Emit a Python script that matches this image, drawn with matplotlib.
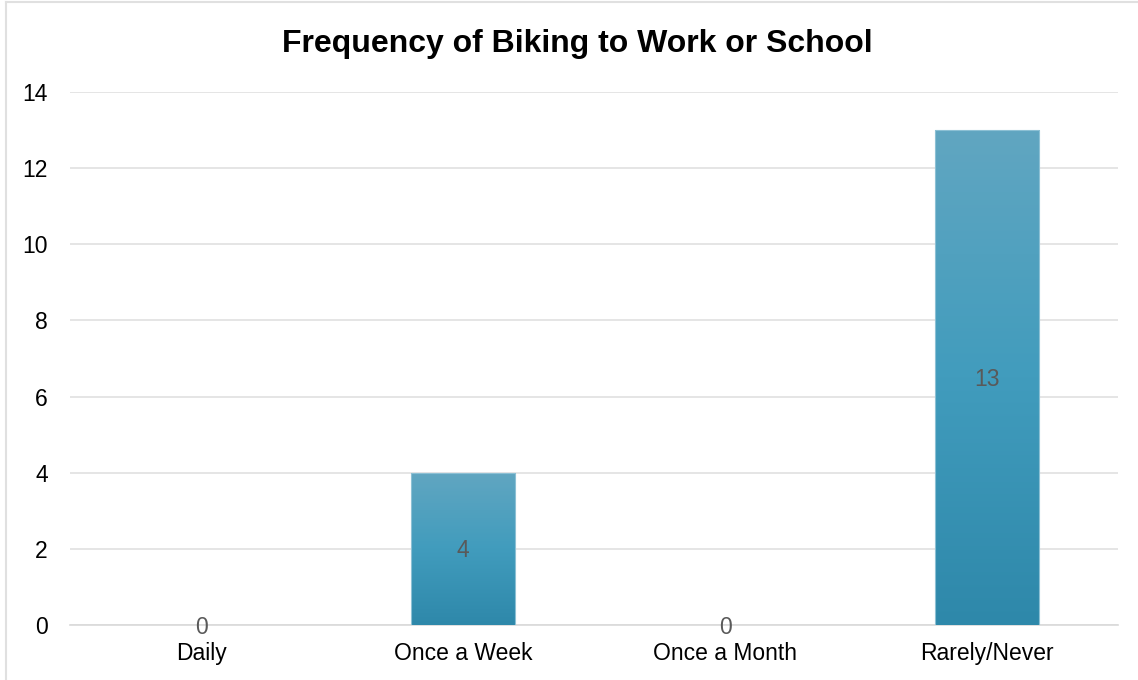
import numpy as np
import matplotlib
matplotlib.use('Agg')
import matplotlib.pyplot as plt
from matplotlib.colors import LinearSegmentedColormap
from matplotlib.lines import Line2D

plt.rcParams['font.family'] = ['Liberation Sans', 'DejaVu Sans']

categorias = ['Daily', 'Once a Week', 'Once a Month', 'Rarely/Never']
valores = [0, 4, 0, 13]
titulo = 'Frequency of Biking to Work or School'

fig = plt.figure(figsize=(11.38, 6.80), dpi=100)
ax = fig.add_axes([70/1138, 1-625/680, 1048/1138, 533/680])

x = np.arange(len(categorias))
barras = ax.bar(x, valores, width=0.4, color='none', edgecolor='none', zorder=3)

# gradiente vertical nas barras
cmap = LinearSegmentedColormap.from_list('grad', ['#2e88aa', '#419cbd', '#61a6c1'])
grad = np.linspace(0, 1, 256).reshape(-1, 1)
for b in barras:
    h = b.get_height()
    if h <= 0:
        continue
    x0 = b.get_x()
    w = b.get_width()
    img = ax.imshow(grad, cmap=cmap, aspect='auto', origin='lower',
                    extent=[x0, x0 + w, 0, h], zorder=3)
    img.set_clip_path(b)
    ax.plot([x0, x0, x0 + w, x0 + w], [0, h, h, 0], color='#8cc0d4', lw=0.8, zorder=4)

for xi, v in zip(x, valores):
    ax.annotate(str(v), (xi, v / 2), xytext=(0, -2), textcoords='offset pixels',
                ha='center', va='center', fontsize=16.5, color='#595959', zorder=5)

ax.set_xlim(-0.5, len(categorias) - 0.5)
ax.set_ylim(0, 14)
ax.set_yticks(range(0, 15, 2))
ax.set_xticks(x)
ax.set_xticklabels(categorias)
ax.tick_params(axis='both', length=0, labelsize=16.5, colors='black')
ax.tick_params(axis='y', pad=16)
ax.tick_params(axis='x', pad=12)
ax.grid(axis='y', color='#e0e0e0', lw=1.2, zorder=0)
ax.set_axisbelow(True)
for s in ['top', 'right', 'left']:
    ax.spines[s].set_visible(False)
ax.spines['bottom'].set_color('#d9d9d9')
ax.spines['bottom'].set_linewidth(1.2)

fig.text(577/1138, 1-44/680, titulo, ha='center', va='center',
         fontsize=23, fontweight='bold')

# moldura cinza do grafico
fig.add_artist(Line2D([5.5/1138, 5.5/1138], [0, 1-2/680], color='#e0e0e0', lw=1.5))
fig.add_artist(Line2D([5.5/1138, 1], [1-2/680, 1-2/680], color='#e0e0e0', lw=1.5))

fig.savefig('out.png', dpi=100)
